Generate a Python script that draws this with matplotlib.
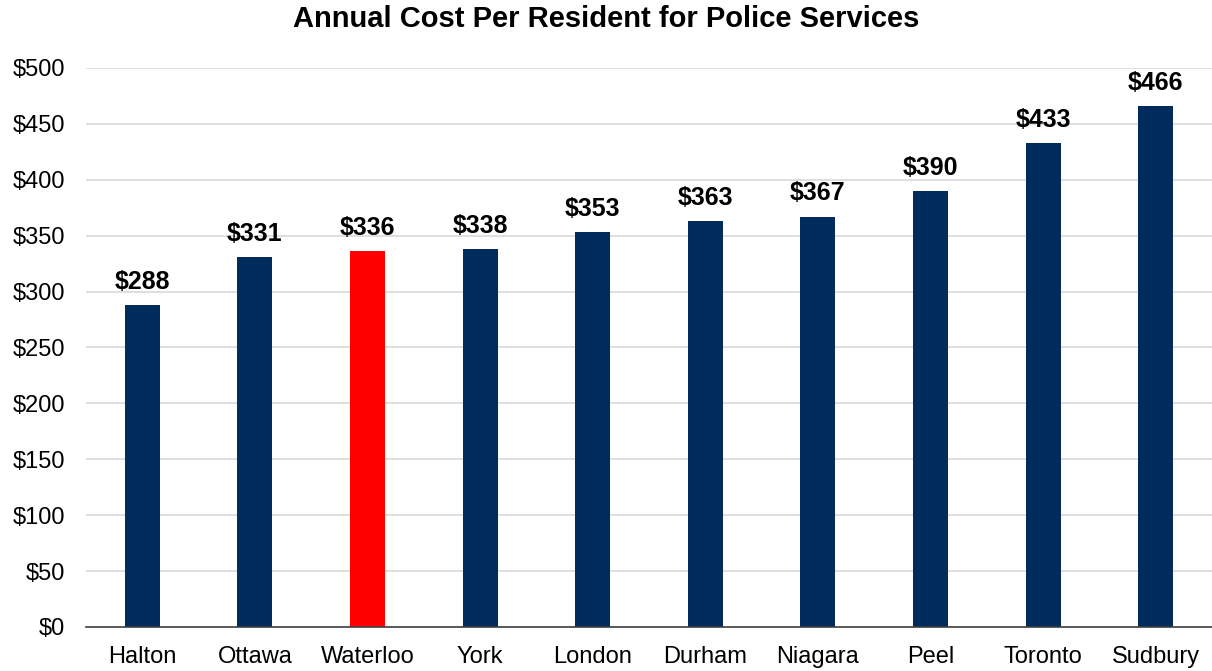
import matplotlib
matplotlib.use("Agg")
import matplotlib.pyplot as plt
from matplotlib.ticker import MultipleLocator, FuncFormatter

cities = ["Halton", "Ottawa", "Waterloo", "York", "London", "Durham",
          "Niagara", "Peel", "Toronto", "Sudbury"]
cost = [288, 331, 336, 338, 353, 363, 367, 390, 433, 466]
highlight = "Waterloo"

plt.rcParams["font.family"] = ["Liberation Sans", "DejaVu Sans"]

fig = plt.figure(figsize=(12.12, 6.71), dpi=100)
ax = fig.add_axes([0.071, 0.0656, 0.929, 0.8331])

colors = ["#FF0000" if c == highlight else "#002B5C" for c in cities]
x = range(len(cities))
bars = ax.bar(x, cost, width=0.31, color=colors, zorder=3)

for xi, v in zip(x, cost):
    ax.text(xi, v + 10, f"${v}", ha="center", va="bottom",
            fontsize=18, fontweight="bold", color="black")

ax.set_xlim(-0.5, len(cities) - 0.5)
ax.set_ylim(0, 500)
ax.yaxis.set_major_locator(MultipleLocator(50))
ax.yaxis.set_major_formatter(FuncFormatter(lambda v, p: f"${int(v)}"))
ax.set_xticks(list(x))
ax.set_xticklabels(cities)

ax.grid(axis="y", color="#D9D9D9", linewidth=1.2, zorder=0)
for s in ["top", "right", "left"]:
    ax.spines[s].set_visible(False)
ax.spines["bottom"].set_color("#404040")
ax.spines["bottom"].set_linewidth(1.2)
ax.spines["bottom"].set_zorder(4)
ax.tick_params(axis="both", length=0, labelsize=17, colors="black")
ax.tick_params(axis="y", pad=15)
ax.tick_params(axis="x", pad=14)

fig.text(0.5, 0.971, "Annual Cost Per Resident for Police Services",
         ha="center", va="center", fontsize=21, fontweight="bold")

fig.savefig("out.png", dpi=100)
